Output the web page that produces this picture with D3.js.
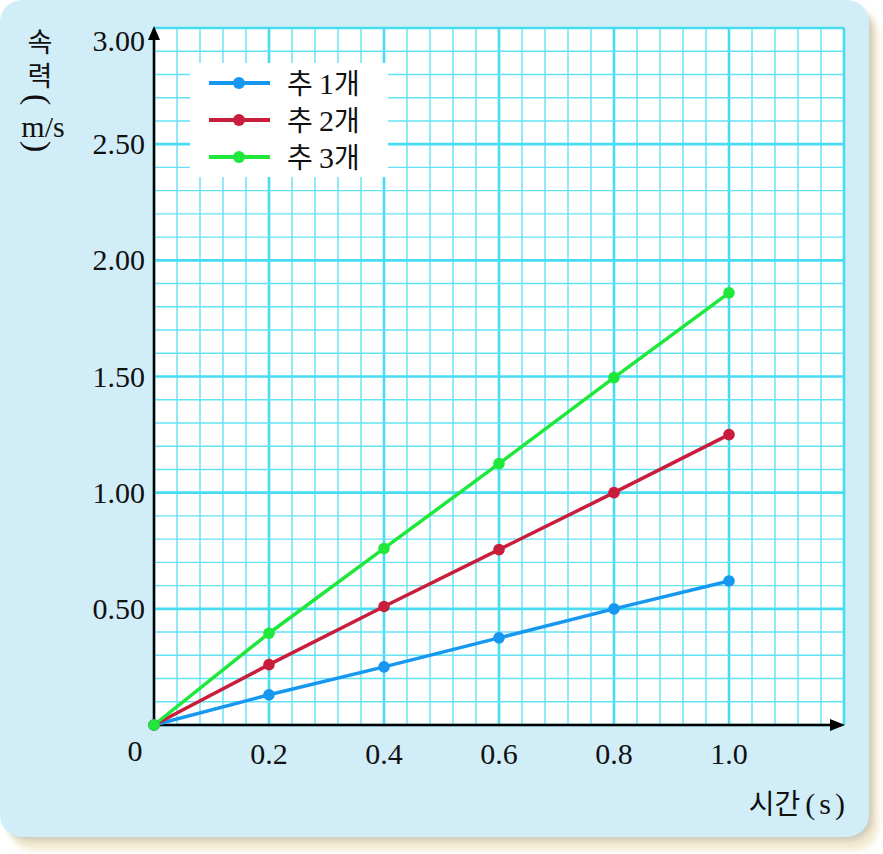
<!DOCTYPE html>
<html><head><meta charset="utf-8">
<script src="https://cdn.jsdelivr.net/npm/d3@7"></script>
<style>html,body{margin:0;padding:0;background:#fff;}svg{display:block;}</style>
</head><body>
<script>
const times = [0, 0.2, 0.4, 0.6, 0.8, 1.0];
const series1 = [0, 0.13, 0.25, 0.375, 0.50, 0.62];
const series2 = [0, 0.26, 0.51, 0.755, 1.00, 1.25];
const series3 = [0, 0.395, 0.76, 1.125, 1.495, 1.86];
const seriesNames = ["추 1개", "추 2개", "추 3개"];
const seriesColors = ["#1798f0", "#c81e3c", "#1ee83a"];
const xTicks = [0.2, 0.4, 0.6, 0.8, 1.0];
const xTickLabels = ["0.2", "0.4", "0.6", "0.8", "1.0"];
const yTicks = [0.5, 1.0, 1.5, 2.0, 2.5, 3.0];
const yTickLabels = ["0.50", "1.00", "1.50", "2.00", "2.50", "3.00"];

const W = 883, H = 854;
const svg = d3.select("body").append("svg").attr("width", W).attr("height", H);
const defs = svg.append("defs");
const f = defs.append("filter").attr("id","sh").attr("x","-5%").attr("y","-5%").attr("width","115%").attr("height","115%");
f.append("feGaussianBlur").attr("stdDeviation", 3);

// shadow & panel
svg.append("rect").attr("x", 10).attr("y", 12).attr("width", 868).attr("height", 838).attr("rx", 22)
  .attr("fill", "#f3ead0").attr("filter","url(#sh)");
svg.append("rect").attr("x", 6).attr("y", 8).attr("width", 866).attr("height", 832).attr("rx", 22)
  .attr("fill", "#c9c6b8").attr("filter","url(#sh)");
svg.append("rect").attr("x", 0).attr("y", 0).attr("width", 869).attr("height", 837).attr("rx", 22)
  .attr("fill", "#d1eef8");

const x = d3.scaleLinear().domain([0, 1.2]).range([154, 844]);
const y = d3.scaleLinear().domain([0, 3]).range([725, 28]);

// plot background
svg.append("rect").attr("x", x(0)).attr("y", y(3)).attr("width", x(1.2) - x(0)).attr("height", y(0) - y(3)).attr("fill", "#fff");

const grid = svg.append("g");
const gridCol = "#62e2f4";
d3.range(0, 31).forEach(i => {
  const v = i * 0.04;
  const major = i % 5 === 0;
  grid.append("line").attr("x1", x(v)).attr("x2", x(v)).attr("y1", y(0)).attr("y2", y(3))
    .attr("stroke", major ? "#48dcf2" : gridCol).attr("stroke-width", major ? 2.6 : 1.4);
});
d3.range(0, 31).forEach(i => {
  const v = i * 0.1;
  const major = i % 5 === 0;
  grid.append("line").attr("x1", x(0)).attr("x2", x(1.2)).attr("y1", y(v)).attr("y2", y(v))
    .attr("stroke", major ? "#48dcf2" : gridCol).attr("stroke-width", major ? 2.6 : 1.4);
});

// legend box
svg.append("rect").attr("x", 190).attr("y", 63).attr("width", 198).attr("height", 114).attr("fill", "#fff");

// axes
const ax = svg.append("g").attr("stroke", "#000").attr("stroke-width", 2.5);
ax.append("line").attr("x1", x(0)).attr("x2", x(1.2) - 8).attr("y1", y(0)).attr("y2", y(0));
ax.append("line").attr("x1", x(0)).attr("x2", x(0)).attr("y1", y(0)).attr("y2", y(3) + 8);
svg.append("path").attr("d", `M${x(1.2)+1},${y(0)} L${x(1.2)-14},${y(0)-6} L${x(1.2)-14},${y(0)+6} Z`).attr("fill", "#000");
svg.append("path").attr("d", `M${x(0)},${y(3)-2} L${x(0)-6},${y(3)+12} L${x(0)+6},${y(3)+12} Z`).attr("fill", "#000");

// series
const allSeries = [series1, series2, series3];
const line = d3.line().x((d, i) => x(times[i])).y(d => y(d));
allSeries.forEach((s, k) => {
  svg.append("path").datum(s).attr("d", line).attr("fill", "none")
    .attr("stroke", seriesColors[k]).attr("stroke-width", 3.5);
});
allSeries.forEach((s, k) => {
  svg.append("g").selectAll("circle").data(s).join("circle")
    .attr("cx", (d, i) => x(times[i])).attr("cy", d => y(d)).attr("r", 5.8)
    .attr("fill", seriesColors[k]);
});

const serif = "'Liberation Serif', 'Noto Sans CJK KR', serif";
const kr = "'Noto Sans CJK KR', sans-serif";

// legend
seriesNames.forEach((n, k) => {
  const cy = 83 + k * 37;
  svg.append("line").attr("x1", 209).attr("x2", 270).attr("y1", cy).attr("y2", cy)
    .attr("stroke", seriesColors[k]).attr("stroke-width", 4);
  svg.append("circle").attr("cx", 239).attr("cy", cy).attr("r", 6).attr("fill", seriesColors[k]);
  const parts = n.split(" ");
  const t = svg.append("text").attr("x", 287).attr("y", cy + 11).attr("font-size", 28).attr("fill", "#111");
  t.append("tspan").attr("font-family", kr).text(parts[0] + " ");
  t.append("tspan").attr("font-family", serif).attr("font-size", 30).text(parts[1].replace("개", ""));
  t.append("tspan").attr("font-family", kr).text("개");
});

// y tick labels
yTicks.forEach((v, i) => {
  svg.append("text").attr("x", 145).attr("y", y(v) + 10 + (v === 3 ? 13 : 0)).attr("text-anchor", "end")
    .attr("font-family", serif).attr("font-size", 30).attr("fill", "#111").text(yTickLabels[i]);
});
// x tick labels
xTicks.forEach((v, i) => {
  svg.append("text").attr("x", x(v)).attr("y", 764).attr("text-anchor", "middle")
    .attr("font-family", serif).attr("font-size", 30).attr("fill", "#111").text(xTickLabels[i]);
});
svg.append("text").attr("x", 135).attr("y", 761).attr("text-anchor", "middle")
  .attr("font-family", serif).attr("font-size", 30).attr("fill", "#111").text("0");

// axis titles
const xt = svg.append("text").attr("x", 845).attr("y", 814).attr("text-anchor", "end").attr("fill", "#111").attr("font-size", 28);
xt.append("tspan").attr("font-family", kr).text("시간");
xt.append("tspan").attr("font-family", serif).attr("font-size", 30).attr("dx", 5).text("(");
xt.append("tspan").attr("font-family", serif).attr("font-size", 30).attr("dx", 4).text("s");
xt.append("tspan").attr("font-family", serif).attr("font-size", 30).attr("dx", 4).text(")");

const yt = svg.append("g").attr("fill", "#111");
yt.append("text").attr("x", 40).attr("y", 52).attr("text-anchor", "middle").attr("font-family", kr).attr("font-size", 27).text("속");
yt.append("text").attr("x", 40).attr("y", 86).attr("text-anchor", "middle").attr("font-family", kr).attr("font-size", 27).text("력");
yt.append("text").attr("x", 27).attr("y", 94).attr("rotate", 90)
  .attr("font-family", serif).attr("font-size", 34).text("(");
yt.append("text").attr("x", 43).attr("y", 137).attr("text-anchor", "middle").attr("font-family", serif).attr("font-size", 30).text("m/s");
yt.append("text").attr("x", 27).attr("y", 141).attr("rotate", 90)
  .attr("font-family", serif).attr("font-size", 34).text(")");
</script>
</body></html>
